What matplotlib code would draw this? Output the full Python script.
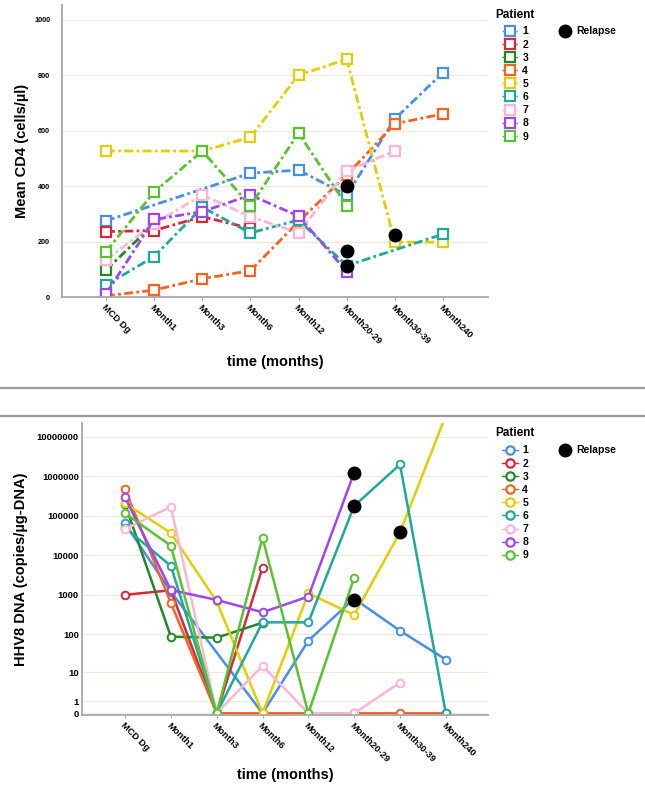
import numpy as np
import matplotlib
matplotlib.use("Agg")
import matplotlib.pyplot as plt
from matplotlib.lines import Line2D

plt.rcParams['font.family'] = ['Liberation Sans', 'DejaVu Sans']

nan = np.nan
categories = ["MCD Dg", "Month1", "Month3", "Month6", "Month12", "Month20-29", "Month30-39", "Month240"]
patients = ["1", "2", "3", "4", "5", "6", "7", "8", "9"]
colors = ["#4a8fe6", "#d8283c", "#22882c", "#f5631f", "#e3cd05", "#20a99b", "#fbb6d6", "#a145ef", "#58c232"]

# Mean CD4 (cells/µl)
cd4_p1 = [275, nan, nan, 447, 458, 368, 643, 810]
cd4_p2 = [236, 240, 290, 248, nan, nan, nan, nan]
cd4_p3 = [97, 265, nan, nan, nan, nan, nan, nan]
cd4_p4 = [4, 25, 66, 95, 272, 440, 625, 661]
cd4_p5 = [527, nan, 527, 577, 801, 858, 198, 198]
cd4_p6 = [43, 146, 324, 231, 278, 113, nan, 227]
cd4_p7 = [134, 265, 368, 290, 231, 455, 527, nan]
cd4_p8 = [11, 280, 308, 368, 292, 92, nan, nan]
cd4_p9 = [164, 379, 527, 329, 592, 329, nan, nan]
cd4 = [cd4_p1, cd4_p2, cd4_p3, cd4_p4, cd4_p5, cd4_p6, cd4_p7, cd4_p8, cd4_p9]
cd4_relapse_x = ["Month20-29", "Month20-29", "Month20-29", "Month30-39"]
cd4_relapse_y = [400, 167, 113, 224]

# HHV8 DNA (copies/µg-DNA)
dna_p1 = [64000, 1200, nan, 0, 68, 800, 122, 22]
dna_p2 = [1000, 1300, 0, 4900, nan, nan, nan, nan]
dna_p3 = [200000, 86, 81, 196, nan, nan, nan, nan]
dna_p4 = [476000, 620, 0, 0, 0, 0, 0, 0]
dna_p5 = [207000, 37000, 680, 0, 1090, 308, 38000, 35000000]
dna_p6 = [50000, 5400, 0, 200, 200, 178000, 2000000, 0]
dna_p7 = [46000, 170000, 0, 15, 0, 0, 5, nan]
dna_p8 = [294000, 1320, 740, 360, 900, 1230000, nan, nan]
dna_p9 = [116000, 17500, 0, 27900, 0, 2700, nan, nan]
dna = [dna_p1, dna_p2, dna_p3, dna_p4, dna_p5, dna_p6, dna_p7, dna_p8, dna_p9]
dna_relapse_x = ["Month20-29", "Month20-29", "Month20-29", "Month30-39"]
dna_relapse_y = [1230000, 178000, 750, 38000]

cd4_ticks = [0, 200, 400, 600, 800, 1000]
dna_ticks = [0, 1, 10, 100, 1000, 10000, 100000, 1000000, 10000000]

W, H = 645, 788
fig = plt.figure(figsize=(W / 100, H / 100), dpi=100)

def axes_px(l, t, r, b):
    return fig.add_axes([l / W, 1 - b / H, (r - l) / W, (b - t) / H])

grid_c = "#efeadb"
spine_c = "#a8a8a8"

def style(ax, ysize, ypad):
    for s in ["top", "right"]:
        ax.spines[s].set_visible(False)
    for s in ["left", "bottom"]:
        ax.spines[s].set_color(spine_c)
        ax.spines[s].set_linewidth(1.3)
    ax.set_axisbelow(True)
    ax.yaxis.grid(True, color=grid_c, lw=0.9)
    ax.tick_params(axis="y", length=0, labelsize=ysize, pad=ypad)
    ax.tick_params(axis="x", length=2, color=spine_c, labelsize=6.7, pad=2)
    xs = np.arange(len(categories))
    ax.set_xticks(xs)
    ax.set_xticklabels(categories, rotation=-45, ha="left", va="top",
                       rotation_mode="anchor", fontweight="bold")
    for lab in ax.get_yticklabels():
        lab.set_fontweight("bold")

xs = np.arange(len(categories))
cat_idx = {c: i for i, c in enumerate(categories)}

# ---------- Top panel ----------
ax1 = axes_px(62, 5, 488, 297)
for vals, c in zip(cd4, colors):
    v = np.array(vals, float)
    m = ~np.isnan(v)
    ax1.plot(xs[m], v[m], color=c, ls=(0, (3.2, 1.2, 1, 1.2)), lw=2.0,
             marker="s", ms=7, mfc="white", mec=c, mew=1.6)
ax1.plot([cat_idx[c] for c in cd4_relapse_x], cd4_relapse_y, ls="none",
         marker="o", ms=9, color="black", zorder=5)
ax1.set_xlim(-0.914, 7.935)
ax1.set_ylim(0, 1054)
ax1.set_yticks(cd4_ticks)
ax1.set_yticklabels([str(t) for t in cd4_ticks])
style(ax1, 5.2, 8.5)
ax1.set_xlabel("time (months)", fontsize=10.5, fontweight="bold", labelpad=7)
ax1.set_ylabel("Mean CD4 (cells/µl)", fontsize=10.5, fontweight="bold", labelpad=4)

# ---------- Bottom panel ----------
ax2 = axes_px(81.7, 423, 488, 715)
fwd = lambda x: np.log10(np.clip(x, -0.999, None) + 1)
inv = lambda y: 10 ** y - 1
ax2.set_yscale("function", functions=(fwd, inv))
for vals, c in zip(dna, colors):
    v = np.array(vals, float)
    m = ~np.isnan(v)
    ax2.plot(xs[m], v[m], color=c, ls="-", lw=1.8,
             marker="o", ms=5.5, mfc="white", mec=c, mew=1.4)
ax2.plot([cat_idx[c] for c in dna_relapse_x], dna_relapse_y, ls="none",
         marker="o", ms=9, color="black", zorder=5)
ax2.set_xlim(-0.945, 7.92)
ax2.set_ylim(inv(-0.043), inv(7.35))
ax2.set_yticks(dna_ticks)
ax2.set_yticklabels([str(t) for t in dna_ticks])
ax2.yaxis.set_minor_locator(matplotlib.ticker.NullLocator())
style(ax2, 6.8, 2)
ax2.set_xlabel("time (months)", fontsize=10.5, fontweight="bold", labelpad=3)
ax2.set_ylabel("HHV8 DNA (copies/µg-DNA)", fontsize=10.5, fontweight="bold", labelpad=6)

# ---------- Separator lines ----------
for yy in [388, 416]:
    fig.add_artist(Line2D([0, 1], [1 - yy / H, 1 - yy / H], color="#9a9a9a", lw=1.6))

# ---------- Legends ----------
def legends(marker, ls, title_y, first_y):
    fig.text(495 / W, 1 - title_y / H, "Patient", fontsize=8.5, fontweight="bold",
             ha="left", va="center")
    handles = [Line2D([], [], color=c, ls=ls, lw=1.0, marker=marker, ms=7 if marker == "s" else 6,
                      mfc="white", mec=c, mew=1.6) for c in colors]
    leg = fig.legend(handles, patients, loc="upper left",
                     bbox_to_anchor=(502 / W, 1 - (first_y - 6.5) / H), frameon=False,
                     fontsize=7.5, handlelength=1.5, handletextpad=0.45, labelspacing=0.3,
                     borderaxespad=0, borderpad=0)
    for t in leg.get_texts():
        t.set_fontweight("bold")
    rel = Line2D([], [], ls="none", marker="o", ms=9, color="black")
    leg2 = fig.legend([rel], ["Relapse"], loc="upper left",
                      bbox_to_anchor=(560 / W, 1 - (first_y - 6.5) / H), frameon=False,
                      fontsize=7.5, handlelength=1.0, handletextpad=0.55, borderaxespad=0,
                      borderpad=0)
    for t in leg2.get_texts():
        t.set_fontweight("bold")

legends("s", (0, (3, 1, 1, 1)), 15, 33)
legends("o", "-", 433, 452)

fig.savefig("out.png", dpi=100)
